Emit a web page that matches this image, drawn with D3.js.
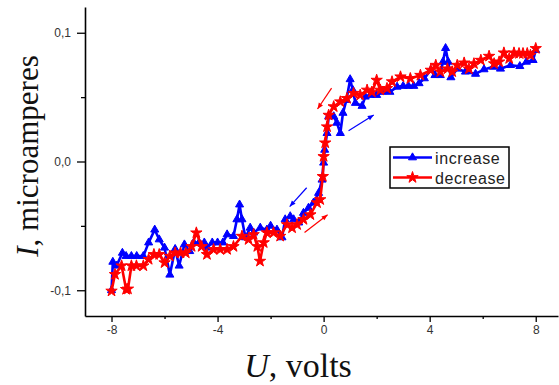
<!DOCTYPE html>
<html>
<head>
<meta charset="utf-8">
<script src="https://cdn.jsdelivr.net/npm/d3@7"></script>
<style>
  body { margin: 0; background: #fff; }
</style>
</head>
<body>
<div id="chart"></div>
<script>
// increase sweep (blue triangles)
var incU = [-8, -7.95, -7.81, -7.59, -7.45, -7.25, -7.05, -6.8, -6.6, -6.37, -6.2, -6.0, -5.8, -5.6, -5.45, -5.25,
  -5.05, -4.9, -4.7, -4.5, -4.4, -4.2, -4.0, -3.8, -3.64, -3.4, -3.27, -3.17, -3.08, -2.95, -2.77, -2.64, -2.39,
  -2.14, -2.0, -1.76, -1.57, -1.45, -1.26, -1.13, -0.94, -0.76, -0.57, -0.38, -0.19, -0.06, 0, 0.04, 0.13, 0.19,
  0.38, 0.5, 0.63, 0.73, 0.86, 1.0, 1.1, 1.2, 1.45, 1.57, 1.76, 2.0, 2.2, 2.5, 2.77, 3.0, 3.2, 3.4, 3.6, 3.8, 4.04,
  4.2, 4.4, 4.5, 4.6, 4.7, 4.8, 5.04, 5.35, 5.73, 6.05, 6.4, 6.67, 7.05, 7.4, 7.65, 7.9, 8.0];
var incI = [-0.1, -0.078, -0.081, -0.071, -0.0735, -0.0735, -0.0735, -0.0735, -0.063, -0.053, -0.0606, -0.067, -0.088, -0.068, -0.081, -0.0645,
  -0.0697, -0.063, -0.063, -0.063, -0.067, -0.063, -0.063, -0.063, -0.0567, -0.058, -0.045, -0.0335, -0.045, -0.059, -0.0515, -0.0553, -0.0515,
  -0.053, -0.05, -0.053, -0.059, -0.045, -0.0426, -0.045, -0.0475, -0.04, -0.036, -0.032, -0.0245, -0.0142, -0.001, 0.009, 0.022, 0.035,
  0.035, 0.03, 0.022, 0.0377, 0.0477, 0.0638, 0.0555, 0.0454, 0.0431, 0.0503, 0.0516, 0.0516, 0.054, 0.054, 0.058, 0.0586, 0.0586, 0.0586, 0.0607, 0.0645, 0.071,
  0.067, 0.067, 0.0774, 0.088, 0.0774, 0.0653, 0.072, 0.0697, 0.068, 0.0715, 0.0735, 0.072, 0.0748, 0.074, 0.0774, 0.0787, 0.0865];

// decrease sweep (red stars)
var decU = [-8, -7.87, -7.62, -7.45, -7.38, -7.25, -7.06, -6.8, -6.6, -6.4, -6.2, -6.0, -5.8, -5.6, -5.4, -5.2, -4.98,
  -4.8, -4.6, -4.4, -4.15, -3.9, -3.64, -3.4, -3.08, -2.83, -2.64, -2.5, -2.4, -2.26, -2.14, -1.89, -1.64, -1.38,
  -1.19, -1.0, -0.76, -0.5, -0.25, -0.13, -0.03, 0, 0.06, 0.13, 0.19, 0.38, 0.63, 0.88, 1.13, 1.38, 1.64, 1.82, 2.0,
  2.14, 2.39, 2.58, 2.9, 3.27, 3.65, 4.04, 4.23, 4.4, 4.67, 4.85, 5.04, 5.3, 5.48, 5.67, 5.93, 6.24, 6.43, 6.62, 6.8,
  7.0, 7.18, 7.37, 7.52, 7.68, 7.8, 8.0];
var decI = [-0.1006, -0.0877, -0.081, -0.0993, -0.099, -0.081, -0.081, -0.081, -0.076, -0.0722, -0.0722, -0.0786, -0.0735, -0.071, -0.071, -0.071, -0.066,
  -0.0554, -0.066, -0.0722, -0.0683, -0.0683, -0.0683, -0.066, -0.058, -0.0606, -0.0567, -0.066, -0.0774, -0.063, -0.0553, -0.0553, -0.058, -0.049,
  -0.0515, -0.049, -0.045, -0.0413, -0.032, -0.0296, -0.0116, 0.0039, 0.0145, 0.027, 0.036, 0.0426, 0.0464, 0.049, 0.053, 0.0516, 0.0555, 0.054, 0.0632,
  0.0555, 0.0568, 0.062, 0.0658, 0.0645, 0.067, 0.071, 0.0748, 0.0697, 0.072, 0.0697, 0.0748, 0.0766, 0.072, 0.076, 0.0787, 0.0818, 0.076, 0.0774, 0.0844,
  0.08, 0.0844, 0.0839, 0.0839, 0.0839, 0.0826, 0.0878];

// sweep direction arrows: [u0, i0, u1, i1, series]
var arrows = [
  [0.30, 0.057, -0.23, 0.0408, "dec"],
  [0.94, 0.0238, 1.89, 0.0361, "inc"],
  [-0.64, -0.0204, -1.28, -0.035, "inc"],
  [-0.72, -0.0552, 0.15, -0.0413, "dec"]
];

var xTicks = [-8, -4, 0, 4, 8];
var xMinor = [-6, -2, 2, 6];
var yTicks = [-0.1, 0, 0.1];
var yMinor = [-0.05, 0.05];
var seriesNames = ["increase", "decrease"];

var width = 559, height = 385;
var blue = "#0000ff", red = "#ff0000";

var svg = d3.select("#chart").append("svg")
  .attr("width", width)
  .attr("height", height)
  .style("font-family", "Arial, 'Liberation Sans', sans-serif");

var x = d3.scaleLinear().domain([-9, 8.84]).range([85, 558]);
var y = d3.scaleLinear().domain([-0.12, 0.12]).range([316, 7]);

var fmt = function(d) { return d3.format(".1f")(d).replace(".", ",").replace("−", "-"); };

// axes
svg.append("g")
  .attr("transform", "translate(0,316)")
  .call(d3.axisBottom(x).tickValues(xTicks).tickSize(6).tickSizeOuter(0).tickPadding(3)
    .tickFormat(function(d) { return d; }));
svg.append("g")
  .attr("transform", "translate(0,316)")
  .call(d3.axisBottom(x).tickValues(xMinor).tickSize(3).tickSizeOuter(0).tickFormat(""))
  .select(".domain").remove();

svg.append("g")
  .attr("transform", "translate(85,0)")
  .call(d3.axisLeft(y).tickValues(yTicks).tickSize(8).tickSizeOuter(0).tickPadding(6).tickFormat(fmt));
svg.append("g")
  .attr("transform", "translate(85,0)")
  .call(d3.axisLeft(y).tickValues(yMinor).tickSize(4).tickSizeOuter(0).tickFormat(""))
  .select(".domain").remove();

svg.selectAll(".domain").attr("stroke", "#000").attr("stroke-width", 1.6);
svg.selectAll(".tick line").attr("stroke", "#000").attr("stroke-width", 1.3);
svg.selectAll(".tick text").attr("font-size", 12).attr("fill", "#333")
  .attr("font-family", "Arial, 'Liberation Sans', sans-serif");

// axis titles
var xt = svg.append("text")
  .attr("x", 298).attr("y", 377)
  .attr("text-anchor", "middle")
  .style("font-family", "'Liberation Serif', 'Times New Roman', serif")
  .style("font-size", "34px")
  .attr("fill", "#111");
xt.append("tspan").style("font-style", "italic").text("U");
xt.append("tspan").text(", volts");

var yt = svg.append("text")
  .attr("transform", "translate(38,156) rotate(-90)")
  .attr("text-anchor", "middle")
  .style("font-family", "'Liberation Serif', 'Times New Roman', serif")
  .style("font-size", "31px")
  .attr("fill", "#111");
yt.append("tspan").style("font-style", "italic").text("I");
yt.append("tspan").text(", microamperes");

// series
var inc = incU.map(function(u, i) { return [u, incI[i]]; });
var dec = decU.map(function(u, i) { return [u, decI[i]]; });

var line = d3.line()
  .x(function(d) { return x(d[0]); })
  .y(function(d) { return y(d[1]); });

var tri = d3.symbol().type(d3.symbolTriangle).size(28);
var star = d3.symbol().type(d3.symbolStar).size(40);

function drawSeries(data, color, sym) {
  svg.append("path")
    .datum(data)
    .attr("d", line)
    .attr("fill", "none")
    .attr("stroke", color)
    .attr("stroke-width", 2.6)
    .attr("stroke-linejoin", "round");
  svg.append("g").selectAll("path")
    .data(data)
    .enter()
    .append("path")
    .attr("d", sym)
    .attr("transform", function(d) { return "translate(" + x(d[0]) + "," + y(d[1]) + ")"; })
    .attr("fill", color)
    .attr("stroke", color)
    .attr("stroke-width", 1);
}

drawSeries(inc, blue, tri);
drawSeries(dec, red, star);

// arrows
arrows.forEach(function(a) {
  var c = a[4] == "inc" ? blue : red;
  var x0 = x(a[0]), y0 = y(a[1]), x1 = x(a[2]), y1 = y(a[3]);
  var ang = Math.atan2(y1 - y0, x1 - x0);
  svg.append("line")
    .attr("x1", x0).attr("y1", y0).attr("x2", x1).attr("y2", y1)
    .attr("stroke", c).attr("stroke-width", 1.2);
  var hl = 6, hw = 2.5;
  var bx = x1 - hl * Math.cos(ang), by = y1 - hl * Math.sin(ang);
  svg.append("path")
    .attr("d", "M" + x1 + "," + y1 +
      "L" + (bx + hw * Math.sin(ang)) + "," + (by - hw * Math.cos(ang)) +
      "L" + (bx - hw * Math.sin(ang)) + "," + (by + hw * Math.cos(ang)) + "Z")
    .attr("fill", c);
});

// legend
var legend = svg.append("g").attr("transform", "translate(390,147)");
legend.append("rect")
  .attr("width", 119).attr("height", 41)
  .attr("fill", "#fff").attr("stroke", "#000").attr("stroke-width", 1.5);

var legendItems = [
  { name: seriesNames[0], color: blue, sym: tri },
  { name: seriesNames[1], color: red, sym: star }
];
legendItems.forEach(function(it, i) {
  var cy = 10.5 + i * 20;
  legend.append("line")
    .attr("x1", 3).attr("x2", 42).attr("y1", cy).attr("y2", cy)
    .attr("stroke", it.color).attr("stroke-width", 2.6);
  legend.append("path")
    .attr("d", it.sym)
    .attr("transform", "translate(22.5," + cy + ")")
    .attr("fill", it.color).attr("stroke", it.color).attr("stroke-width", 1);
  legend.append("text")
    .attr("x", 45).attr("y", cy + 6)
    .style("font-size", "16px")
    .style("letter-spacing", "0.6px")
    .attr("fill", "#222")
    .text(it.name);
});
</script>
</body>
</html>
